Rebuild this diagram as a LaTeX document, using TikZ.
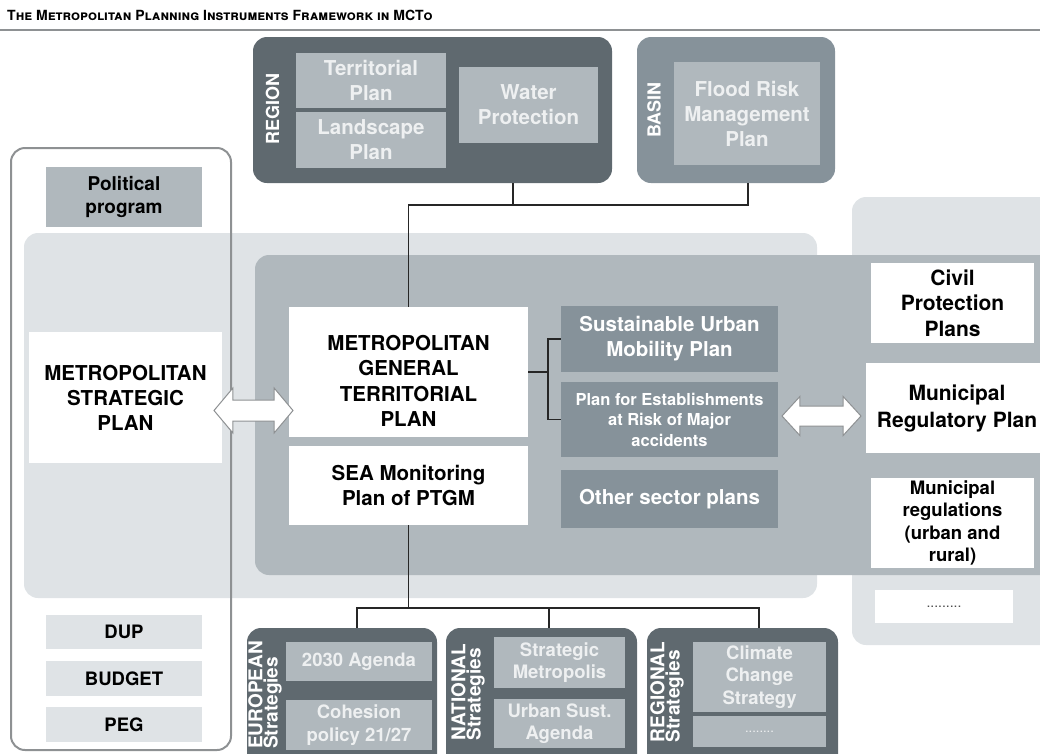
\documentclass[tikz,border=0pt]{standalone}
\usepackage{fontspec}
\setmainfont{TeX Gyre Heros}
\usetikzlibrary{shapes.arrows}

\definecolor{slate}{HTML}{5F696F}
\definecolor{steel}{HTML}{86929A}
\definecolor{mist}{HTML}{B0B8BD}
\definecolor{haze}{HTML}{DFE3E6}
\definecolor{paper}{HTML}{EEF0F1}
\definecolor{frame}{HTML}{8E9193}

\tikzstyle{panel}=[rounded corners=14pt, inner sep=0]
\tikzstyle{slate group}=[panel, fill=slate]
\tikzstyle{steel group}=[panel, fill=steel]
\tikzstyle{plan}=[inner sep=0, align=center, font=\bfseries\fontsize{20.5}{25}\selectfont]
\tikzstyle{minor}=[font=\bfseries\fontsize{18.5}{22.5}\selectfont]
\tikzstyle{white plan}=[plan, fill=white, text=black]
\tikzstyle{mist plan}=[plan, fill=mist, text=paper]
\tikzstyle{steel plan}=[plan, fill=steel, text=white]
\tikzstyle{haze plan}=[plan, minor, fill=haze, text=black]
\tikzstyle{tier label}=[rotate=90, inner sep=0, text=white, font=\bfseries\fontsize{18}{20}\selectfont]
\tikzstyle{strategy label}=[rotate=90, inner sep=0, align=left, text=white, font=\bfseries\fontsize{19}{14}\selectfont]
\tikzstyle{link}=[draw=black!85, line width=1.2pt]
\tikzstyle{exchange}=[double arrow, draw=frame, fill=white, line width=1pt, inner xsep=0, inner ysep=10pt,
  minimum height=79, double arrow head extend=12, double arrow tip angle=100]

\begin{document}
\begin{tikzpicture}[x=1pt, y=-1pt]
  \useasboundingbox (0, 0) rectangle (1040, 753);
  \clip (0, 0) rectangle (1040, 753);

  \node[anchor=base west, inner sep=0, font=\bfseries\fontsize{14}{16}\selectfont\scshape] (title) at (7, 20.5)
    {The Metropolitan Planning Instruments Framework in MCTo};
  \draw[frame, line width=1.5pt] (0, 30) -- (1040, 30);

  % shared areas
  \node[panel, fill=haze, minimum width=793, minimum height=365] (planning_area) at (420.5, 415.5) {};
  \node[panel, fill=haze, minimum width=208, minimum height=448] (municipal_area) at (956, 421) {};
  \node[panel, fill=mist, minimum width=805, minimum height=320] (plan_area) at (657.5, 415) {};
  \node[panel, draw=frame, line width=2pt, minimum width=220, minimum height=602] (political_area) at (121, 449) {};

  % region and basin
  \node[slate group, minimum width=359, minimum height=146] (region) at (432.5, 110) {};
  \node[tier label] (region_label) at (272.5, 109) {REGION};
  \node[mist plan, minimum width=150, minimum height=55] (territorial_plan) at (371, 80.5) {Territorial\\Plan};
  \node[mist plan, minimum width=150, minimum height=56] (landscape_plan) at (371, 140) {Landscape\\Plan};
  \node[mist plan, minimum width=139, minimum height=76] (water_plan) at (528.5, 105) {Water\\Protection};

  \node[steel group, minimum width=198, minimum height=146] (basin) at (736, 110) {};
  \node[tier label] (basin_label) at (654, 110) {BASIN};
  \node[mist plan, minimum width=146, minimum height=103] (flood_plan) at (747, 113.5) {Flood Risk\\Management\\Plan};

  % political side
  \node[plan, font=\bfseries\fontsize{19}{23}\selectfont, fill=mist, minimum width=156, minimum height=60] (political_program) at (124, 197) {Political\\program};
  \node[white plan, minimum width=193, minimum height=131] (msp) at (125.5, 397.5) {METROPOLITAN\\STRATEGIC\\PLAN};
  \node[haze plan, minimum width=156, minimum height=34] (dup) at (124, 632) {DUP};
  \node[haze plan, minimum width=156, minimum height=35] (budget) at (124, 678.5) {BUDGET};
  \node[haze plan, minimum width=156, minimum height=35] (peg) at (124, 724.5) {PEG};

  % metropolitan plans
  \node[white plan, minimum width=239, minimum height=130,
    label={[plan, font=\bfseries\fontsize{20.5}{25.5}\selectfont, yshift=-9pt]center:METROPOLITAN\\GENERAL\\TERRITORIAL\\PLAN}] (mgtp) at (408.5, 372) {};
  \node[white plan, minimum width=239, minimum height=79] (sea_plan) at (408.5, 485.5) {SEA Monitoring\\Plan of PTGM};
  \node[steel plan, minimum width=217, minimum height=66] (sump) at (669.5, 339) {Sustainable Urban\\Mobility Plan};
  \node[steel plan, font=\bfseries\fontsize{16.5}{20.5}\selectfont, minimum width=217, minimum height=75] (risk_plan) at (669.5, 419.5) {Plan for Establishments\\at Risk of Major\\accidents};
  \node[steel plan, minimum width=217, minimum height=58] (sector_plans) at (669.5, 499) {Other sector plans};

  % municipal plans
  \node[white plan, font=\bfseries\fontsize{21}{25.5}\selectfont, minimum width=163, minimum height=80] (civil_plans) at (952.5, 303) {Civil\\Protection\\Plans};
  \node[white plan, font=\bfseries\fontsize{21}{27}\selectfont, minimum width=182, minimum height=90] (mrp) at (957, 408) {Municipal\\Regulatory Plan};
  \node[white plan, minor, minimum width=163, minimum height=90] (municipal_rules) at (952.5, 523) {Municipal\\regulations\\(urban and\\rural)};
  \node[white plan, minimum width=138, minimum height=33, text=black!70, font=\fontsize{14}{16}\selectfont] (municipal_more) at (944, 606.5) {.........};

  % strategies
  \node[slate group, minimum width=190, minimum height=147] (european) at (342, 701.5) {};
  \node[strategy label] (european_label) at (265, 695) {EUROPEAN\\Strategies};
  \node[mist plan, minor, minimum width=146, minimum height=39] (agenda_2030) at (359, 661.5) {2030 Agenda};
  \node[mist plan, minor, minimum width=146, minimum height=50] (cohesion) at (359, 725) {Cohesion\\policy 21/27};

  \node[slate group, minimum width=191, minimum height=147] (national) at (541.5, 701.5) {};
  \node[strategy label] (national_label) at (468, 692) {NATIONAL\\Strategies};
  \node[mist plan, minor, minimum width=131, minimum height=51] (strategic_metro) at (559.5, 662.5) {Strategic\\Metropolis};
  \node[mist plan, minor, minimum width=131, minimum height=49] (urban_agenda) at (559.5, 723.5) {Urban Sust.\\Agenda};

  \node[slate group, minimum width=191, minimum height=147] (regional) at (742.5, 701.5) {};
  \node[strategy label] (regional_label) at (667, 692) {REGIONAL\\Strategies};
  \node[mist plan, minor, minimum width=133, minimum height=70] (climate) at (759.5, 677) {Climate\\Change\\Strategy};
  \node[mist plan, minimum width=133, minimum height=31, font=\fontsize{13}{15}\selectfont] (regional_more) at (759.5, 731.5) {........};

  % upper links
  \coordinate (region_drop) at (513, 205);
  \coordinate (basin_drop) at (748, 205);
  \draw[link] (mgtp.north) -- (mgtp.north |- region_drop) -- (basin_drop) -- (basin_drop |- basin.south);
  \draw[link] (region_drop) -- (region_drop |- region.south);

  % sector plans bracket
  \coordinate (bracket) at (548, 372);
  \draw[link] (mgtp.east) -- (bracket);
  \draw[link] (sump.west) -| (bracket |- risk_plan.west) -- (risk_plan.west);

  % lower links
  \coordinate (eu_drop) at (357, 608);
  \coordinate (nat_drop) at (549, 608);
  \coordinate (reg_drop) at (759, 608);
  \draw[link] (sea_plan.south) -- (sea_plan.south |- eu_drop);
  \draw[link] (eu_drop |- european.north) -- (eu_drop) -- (reg_drop) -- (reg_drop |- regional.north);
  \draw[link] (nat_drop) -- (nat_drop |- national.north);

  % exchanges
  \node[exchange] (msp_link) at (253.5, 410.5) {};
  \node[exchange, inner ysep=9.5pt, double arrow head extend=9.5, double arrow tip angle=95] (mrp_link) at (821.5, 416) {};
\end{tikzpicture}
\end{document}
